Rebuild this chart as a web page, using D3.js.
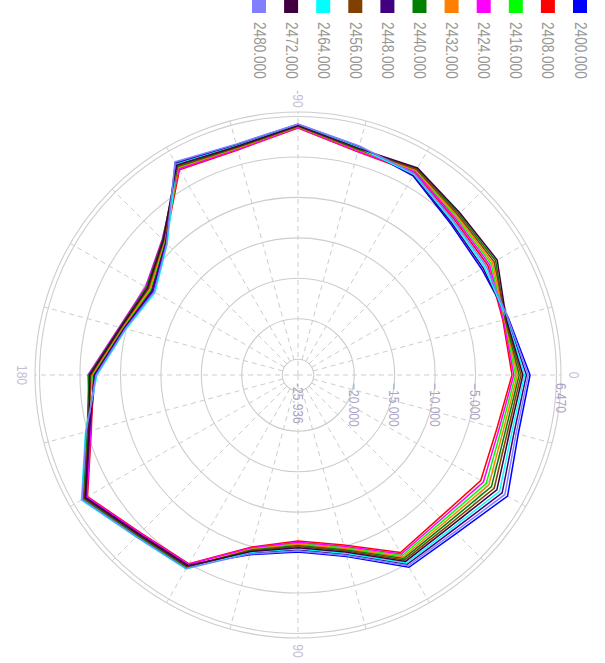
<!DOCTYPE html>
<html><head><meta charset="utf-8">
<script src="https://cdn.jsdelivr.net/npm/d3@7"></script>
<style>html,body{margin:0;padding:0;background:#fff;overflow:hidden}</style>
</head><body>
<svg id="chart" width="605" height="663"></svg>
<script>
// ---- data ----
const angles = [0,15,30,45,60,75,90,105,120,135,150,165,180,195,210,225,240,255,270,285,300,315,330,345];
const seriesNames = ["2400.000","2408.000","2416.000","2424.000","2432.000","2440.000","2448.000","2456.000","2464.000","2472.000","2480.000"];
const seriesColors = ["#0000ff","#ff0000","#00ff00","#ff00ff","#ff8000","#008000","#400080","#804000","#00ffff","#400040","#8080ff"];
const s2400 = [1.73,1.23,2.96,0.74,0.49,-3.71,-5.07,-3.96,0.15,0.76,3.26,-0.35,-1.88,-4.78,-6.28,-3.91,3.35,2.52,4.03,2.28,1.48,-0.37,-0.74,0.00];
const s2408 = [-0.50,-1.49,-0.87,-2.10,-1.61,-5.19,-6.43,-4.95,0.00,0.61,3.09,-0.50,-1.66,-4.60,-6.01,-3.74,2.35,1.85,3.58,1.60,1.92,0.32,0.15,-0.74];
const s2416 = [-0.05,-0.95,-0.10,-1.53,-1.19,-4.89,-6.16,-4.75,0.59,1.21,3.78,0.09,-1.54,-4.51,-5.87,-3.65,2.57,2.00,3.68,1.75,2.15,0.67,0.59,-0.59];
const s2424 = [-0.28,-1.22,-0.49,-1.82,-1.40,-5.04,-6.29,-4.85,0.07,0.68,3.18,-0.43,-0.99,-4.08,-5.19,-3.22,2.46,1.92,3.63,1.68,2.04,0.50,0.37,-0.67];
const s2432 = [0.17,-0.67,0.28,-1.25,-0.98,-4.75,-6.02,-4.65,0.44,1.06,3.61,-0.06,-1.43,-4.43,-5.73,-3.56,2.68,2.07,3.73,1.83,2.26,0.84,0.81,-0.52];
const s2440 = [0.39,-0.40,0.66,-0.96,-0.77,-4.60,-5.89,-4.55,0.52,1.14,3.69,0.02,-1.10,-4.17,-5.33,-3.31,2.79,2.15,3.78,1.90,2.48,1.19,1.26,-0.44];
const s2448 = [1.28,0.69,2.19,0.17,0.07,-4.01,-5.34,-4.16,0.22,0.84,3.35,-0.28,-1.77,-4.69,-6.14,-3.82,3.24,2.44,3.98,2.20,1.59,-0.20,-0.52,-0.15];
const s2456 = [0.62,-0.13,1.05,-0.68,-0.56,-4.45,-5.75,-4.45,0.37,0.98,3.52,-0.13,-1.32,-4.34,-5.60,-3.48,2.91,2.22,3.83,1.98,2.37,1.01,1.04,-0.37];
const s2464 = [1.06,0.41,1.81,-0.11,-0.14,-4.15,-5.48,-4.26,0.74,1.36,3.95,0.24,-2.10,-4.95,-6.55,-4.08,3.13,2.37,3.93,2.13,1.70,-0.02,-0.30,-0.22];
const s2472 = [0.84,0.14,1.43,-0.40,-0.35,-4.30,-5.61,-4.36,0.30,0.91,3.43,-0.20,-1.21,-4.25,-5.46,-3.39,3.02,2.29,3.88,2.05,2.59,1.36,1.48,-0.30];
const s2480 = [1.51,0.96,2.58,0.46,0.28,-3.86,-5.21,-4.06,0.67,1.29,3.86,0.17,-1.99,-4.86,-6.41,-3.99,3.46,2.59,4.08,2.35,1.81,0.15,-0.07,-0.07];
const seriesValues = [s2400,s2408,s2416,s2424,s2432,s2440,s2448,s2456,s2464,s2472,s2480];
const ringValues = [-25,-20,-15,-10,-5,0,5];
const radialTickValues = [-20,-15,-10,-5];
const radialMinLabel = "-25.936";
const radialMaxLabel = "6.470";
const angleTickValues = [0,90,180,270];
const angleTickLabels = ["0","90","180","-90"];

// ---- layout (drawn in the unrotated frame, then turned 90° clockwise) ----
const cx = 375, cy = 307;
const rScale = d3.scaleLinear().domain([-26.95, 5]).range([0, 258.5]);
const R = 263;
const spokeAngles = d3.range(0, 360, 15);

const svg = d3.select("#chart");
const g = svg.append("g").attr("transform", "translate(605,0) rotate(90)");

function squeeze(sel, f) {
  sel.each(function(){
    const L = this.getComputedTextLength();
    d3.select(this).attr("textLength", L * f).attr("lengthAdjust", "spacingAndGlyphs");
  });
}

const plot = g.append("g").attr("transform", `translate(${cx},${cy})`);
const gridCol = "#cdcdcd";

plot.selectAll("circle.ring").data(ringValues).join("circle")
  .attr("class","ring").attr("r", d => rScale(d))
  .attr("fill","none").attr("stroke", gridCol).attr("stroke-width",1.1);
plot.append("circle").attr("r", R).attr("fill","none").attr("stroke", gridCol).attr("stroke-width",1.1);

plot.selectAll("line.spoke").data(spokeAngles).join("line")
  .attr("class","spoke")
  .attr("x1", d => (d % 90 === 0 ? 0 : rScale(-25)) * Math.sin(d*Math.PI/180))
  .attr("y1", d => -(d % 90 === 0 ? 0 : rScale(-25)) * Math.cos(d*Math.PI/180))
  .attr("x2", d => R * Math.sin(d*Math.PI/180))
  .attr("y2", d => -R * Math.cos(d*Math.PI/180))
  .attr("stroke", gridCol).attr("stroke-width",1).attr("stroke-dasharray","5,4");

const line = d3.lineRadial()
  .angle((d,i) => angles[i]*Math.PI/180)
  .radius(d => rScale(d))
  .curve(d3.curveLinearClosed);
plot.selectAll("path.series").data(seriesValues).join("path")
  .attr("class","series")
  .attr("d", d => line(d))
  .attr("fill","none")
  .attr("stroke", (d,i) => seriesColors[i])
  .attr("stroke-width",1.5)
  .attr("stroke-linejoin","miter");

const labFont = "'Liberation Sans', Arial, sans-serif";
const radLabels = [{t: radialMinLabel, r: 0}]
  .concat(radialTickValues.map(v => ({t: d3.format(".3f")(v), r: rScale(v)})))
  .concat([{t: radialMaxLabel, r: R}]);
plot.selectAll("text.rl").data(radLabels).join("text")
  .attr("class","rl")
  .attr("x", 8).attr("y", d => -d.r)
  .attr("dominant-baseline","central")
  .attr("font-family", labFont).attr("font-size", 15)
  .attr("fill", "#aba3c3")
  .text(d => d.t)
  .call(squeeze, 0.8);

plot.selectAll("text.al").data(angleTickValues).join("text")
  .attr("class","al")
  .attr("x", d => 276*Math.sin(d*Math.PI/180))
  .attr("y", d => -276*Math.cos(d*Math.PI/180))
  .attr("text-anchor","middle").attr("dominant-baseline","central")
  .attr("font-family", labFont).attr("font-size", 15)
  .attr("fill", "#c4bed4")
  .text((d,i) => angleTickLabels[i])
  .call(squeeze, 0.8);

const leg = g.append("g");
const legY = d3.scaleLinear().domain([0, 10]).range([18, 339]);
seriesNames.forEach((n, i) => {
  leg.append("rect").attr("x", -1).attr("y", legY(i)).attr("width", 14).attr("height", 14)
    .attr("fill", seriesColors[i]);
  leg.append("text").attr("x", 22).attr("y", legY(i) + 7)
    .attr("dominant-baseline","central")
    .attr("font-family", labFont).attr("font-size", 16)
    .attr("fill", "#979797").text(n)
    .call(squeeze, 0.85);
});
</script>
</body></html>
